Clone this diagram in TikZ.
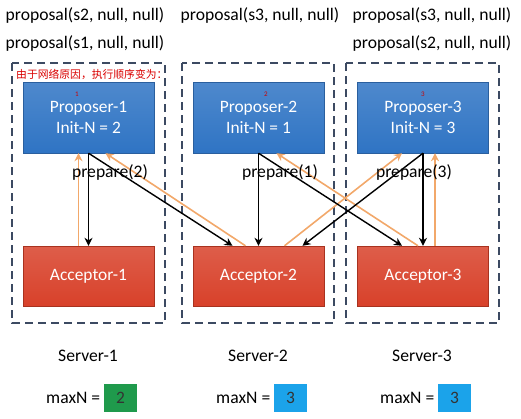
\documentclass[tikz,border=0pt]{standalone}
\usepackage{fontspec}
\setmainfont{Carlito}
\newfontfamily\cjk{Noto Sans CJK SC}
\usetikzlibrary{arrows.meta,positioning}

\definecolor{propblue}{HTML}{2F74C4}
\definecolor{propdark}{HTML}{2A5F9E}
\definecolor{accred}{HTML}{D8412A}
\definecolor{accdark}{HTML}{A8321F}
\definecolor{replyorange}{HTML}{F2A86A}
\definecolor{serverline}{HTML}{3C4A62}
\definecolor{maxgreen}{HTML}{1F9A4C}
\definecolor{maxblue}{HTML}{1BA3EA}

\tikzset{
	txt/.style={font=\fontsize{17.6}{20}\selectfont},
	server/.style={draw=serverline, line width=1.3pt, dash pattern=on 8pt off 5pt},
	proposer/.style={draw=propdark, top color=propblue!85!white, bottom color=propblue, text=white, minimum width=131pt, minimum height=71pt, align=center, font=\fontsize{17.4}{21}\selectfont},
	acceptor/.style={draw=accdark, top color=accred!85!white, bottom color=accred, text=white, minimum width=131pt, minimum height=60pt, font=\fontsize{17.4}{20}\selectfont},
	prep/.style={-{Stealth[length=8pt,width=8pt]}, line width=1.4pt, black},
	reply/.style={-{Stealth[length=8pt,width=8pt]}, line width=1.6pt, replyorange},
	valbox/.style={minimum width=33pt, minimum height=28pt, font=\fontsize{17.4}{20}\selectfont, text=black!80},
	order/.style={text=red!80!black, font=\fontsize{7}{8}\selectfont, inner sep=0pt}
}

\begin{document}
\begin{tikzpicture}[x=1pt,y=-1pt]
	\useasboundingbox (0,0) rectangle (521,418);

	\node[txt] (q1) at (85,15) {proposal(s2, null, null)};
	\node[txt] (q2) at (85,43) {proposal(s1, null, null)};
	\node[txt] (q3) at (260,15) {proposal(s3, null, null)};
	\node[txt] (q4) at (432,15) {proposal(s3, null, null)};
	\node[txt] (q5) at (432,43) {proposal(s2, null, null)};

	\draw[server] (12,63) rectangle (165,323);
	\draw[server] (182,63) rectangle (334,323);
	\draw[server] (346,63) rectangle (499,323);

	\node[text=red!85!black, font=\cjk\fontsize{10.8}{12}\selectfont, anchor=west, inner sep=0pt] (note) at (16,74) {由于网络原因，执行顺序变为：};

	\node[proposer] (p1) at (88.5,117.5) {Proposer-1\\Init-N = 2};
	\node[proposer] (p2) at (258.5,117.5) {Proposer-2\\Init-N = 1};
	\node[proposer] (p3) at (423,117.5) {Proposer-3\\Init-N = 3};

	\node[order] (o1) at (77,94) {1};
	\node[order] (o2) at (266,94) {2};
	\node[order] (o3) at (423,94) {3};

	\node[acceptor] (a1) at (88.5,276) {Acceptor-1};
	\node[acceptor] (a2) at (258.5,276) {Acceptor-2};
	\node[acceptor] (a3) at (423,276) {Acceptor-3};

	\draw[reply] ([xshift=-10pt]a1.north) -- ([xshift=-10pt]p1.south);
	\draw[reply] ([xshift=-13pt]a2.north) -- ([xshift=17pt]p1.south);
	\draw[reply] ([xshift=26pt]a2.north) -- ([xshift=-21pt]p3.south);
	\draw[reply] ([xshift=-5pt]a3.north) -- ([xshift=18pt]p2.south);
	\draw[reply] ([xshift=12pt]a3.north) -- ([xshift=12pt]p3.south);

	\draw[prep] (p1.south) -- (a1.north);
	\draw[prep] (p1.south) -- ([xshift=-26pt]a2.north);
	\draw[prep] (p2.south) -- (a2.north);
	\draw[prep] (p2.south) -- ([xshift=-21pt]a3.north);
	\draw[prep] (p3.south) -- (a3.north);
	\draw[prep] (p3.south) -- ([xshift=44pt]a2.north);

	\node[txt] (l1) at (110,172) {prepare(2)};
	\node[txt] (l2) at (280,172) {prepare(1)};
	\node[txt] (l3) at (414,172) {prepare(3)};

	\node[txt] (s1) at (88,356) {Server-1};
	\node[txt] (s2) at (258,356) {Server-2};
	\node[txt] (s3) at (422,356) {Server-3};

	\node[valbox, fill=maxgreen] (m1) at (120.5,398) {2};
	\node[valbox, fill=maxblue] (m2) at (290.5,398) {3};
	\node[valbox, fill=maxblue] (m3) at (454.5,398) {3};
	\node[txt, left=0pt of m1] (n1) {maxN =};
	\node[txt, left=0pt of m2] (n2) {maxN =};
	\node[txt, left=0pt of m3] (n3) {maxN =};
\end{tikzpicture}
\end{document}
